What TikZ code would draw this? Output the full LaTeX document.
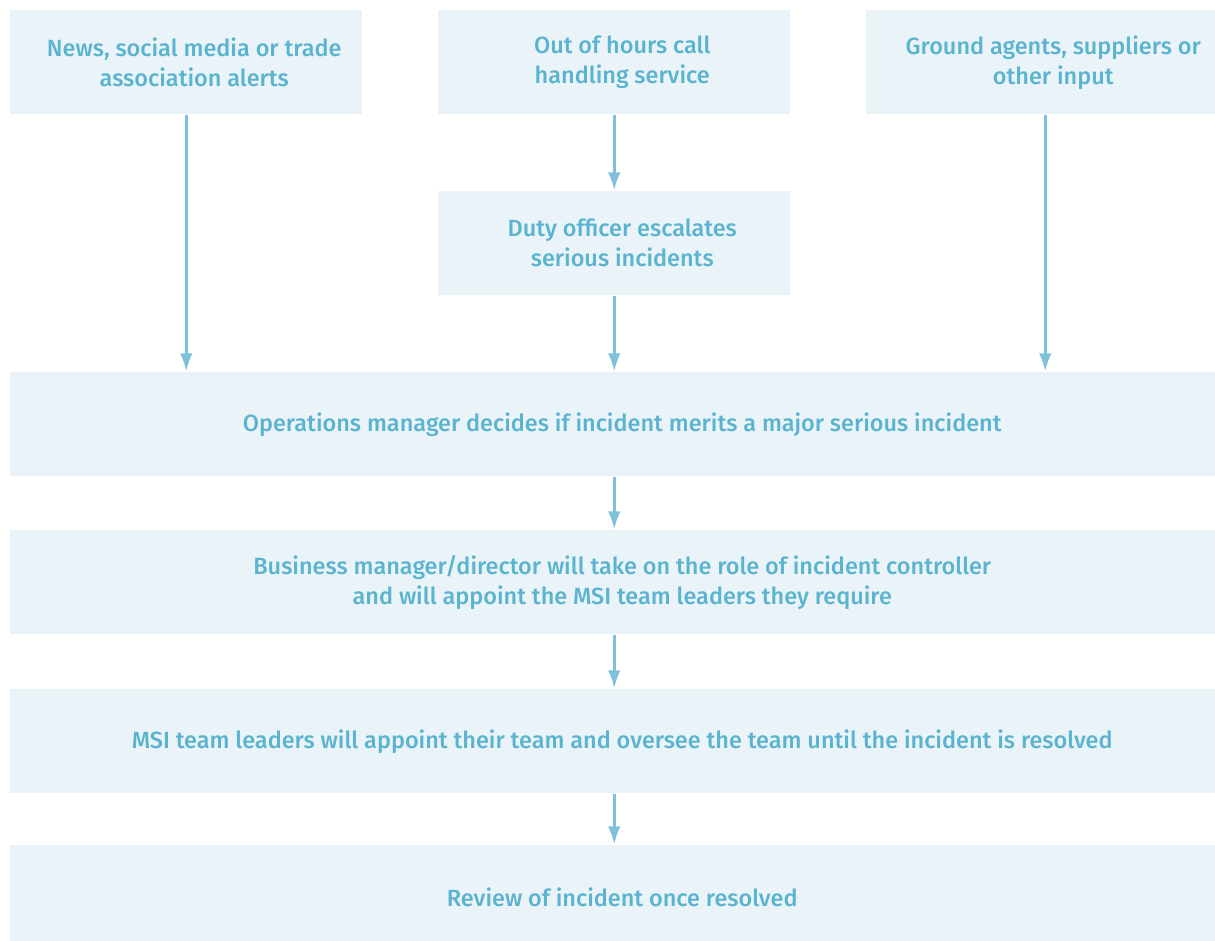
\documentclass[tikz,border=0pt]{standalone}
\usepackage{fontspec}
\setmainfont{Fira Sans}[BoldFont={Fira Sans Medium}]
\usetikzlibrary{positioning, arrows.meta}
\definecolor{boxfill}{HTML}{EAF4F8}
\definecolor{boxtext}{HTML}{5AB4D0}
\definecolor{arrowblue}{HTML}{7FC1DB}

\begin{document}
\begin{tikzpicture}[x=0.75pt, y=-0.75pt,
    stage/.style={rectangle,
      fill=boxfill,
      inner sep=0pt,
      anchor=north west},
    caption/.style={text=boxtext,
      font=\fontsize{17.6}{22.5}\selectfont\bfseries,
      align=center,
      xshift=6pt},
    small/.style={stage, minimum width=264pt, minimum height=78pt},
    wide/.style={stage, minimum width=906pt, minimum height=78pt},
    flow/.style={-{Latex[length=13.5pt, width=9.5pt]}, 
      draw=arrowblue, 
      line width=2pt, 
      shorten >=0.5pt}]
  \useasboundingbox (0,0) rectangle (1215,940);

% SOURCES

  \node [small, label={[caption]center:{News, social media or trade\\association alerts}}] 
    (news) at (10,10) {};
  \node [small, label={[caption]center:{Out of hours call\\handling service}}] 
    (outofhours) at (438,10) {};
  \node [small, minimum width=268.5pt, 
    label={[caption]center:{Ground agents, suppliers or\\other input}}] 
    (ground) at (866,10) {};

  \node [small, label={[caption]center:{Duty officer escalates\\serious incidents}}] 
    (duty) at (438,191) {};

% STAGES

  \node [wide, label={[caption]center:{Operations manager decides if incident merits a major serious incident}}] 
    (opsmgr) at (10,372) {};
  \node [wide, label={[caption]center:{Business manager/director will take on the role of incident controller\\
    and will appoint the MSI team leaders they require}}] 
    (busmgr) at (10,530) {};
  \node [wide, label={[caption]center:{MSI team leaders will appoint their team and oversee the team until the incident is resolved}}] 
    (msiteam) at (10,689) {};
  \node [wide, label={[caption]center:{Review of incident once resolved}}] 
    (review) at (10,845) {};

  % ARROWS

  \draw[flow] (news.south) -- (news.south |- opsmgr.north);
  \draw[flow] (outofhours.south) -- (duty.north);
  \draw[flow] (duty.south) -- (opsmgr.north -| duty.south);
  \draw[flow] (ground.south) -- (ground.south |- opsmgr.north);

  \draw[flow] (opsmgr.south -| duty.south) -- (busmgr.north -| duty.south);
  \draw[flow] (busmgr.south -| duty.south) -- (msiteam.north -| duty.south);
  \draw[flow] (msiteam.south -| duty.south) -- (review.north -| duty.south);

\end{tikzpicture}
\end{document}
